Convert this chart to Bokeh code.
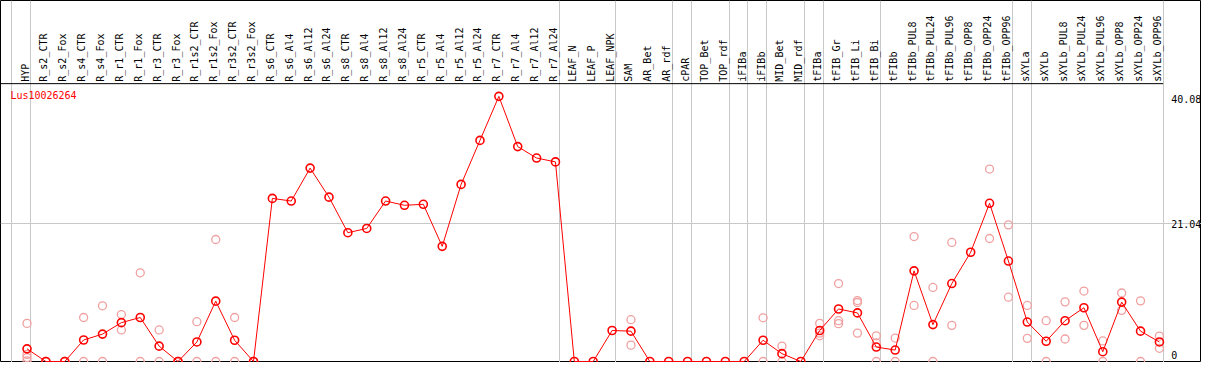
import numpy as np
from bokeh.plotting import figure
from bokeh.models import Range1d, LinearAxis, FixedTicker, Grid, Label
from bokeh.embed import file_html
from bokeh.resources import INLINE
from bokeh.core.properties import value

# ---------------- data ----------------
gene = "Lus10026264"

categories = [
    "HYP",
    "R_s2_CTR", "R_s2_Fox", "R_s4_CTR", "R_s4_Fox", "R_r1_CTR", "R_r1_Fox",
    "R_r3_CTR", "R_r3_Fox", "R_r1s2_CTR", "R_r1s2_Fox", "R_r3s2_CTR", "R_r3s2_Fox",
    "R_s6_CTR", "R_s6_Al4", "R_s6_Al12", "R_s6_Al24",
    "R_s8_CTR", "R_s8_Al4", "R_s8_Al12", "R_s8_Al24",
    "R_r5_CTR", "R_r5_Al4", "R_r5_Al12", "R_r5_Al24",
    "R_r7_CTR", "R_r7_Al4", "R_r7_Al12", "R_r7_Al24",
    "LEAF_N", "LEAF_P", "LEAF_NPK",
    "SAM", "AR_Bet", "AR_rdf",
    "cPAR",
    "TOP_Bet", "TOP_rdf",
    "iFIBa",
    "iFIBb",
    "MID_Bet", "MID_rdf",
    "tFIBa",
    "tFIB_Gr", "tFIB_Li", "tFIB_Bi",
    "tFIBb", "tFIBb_PUL8", "tFIBb_PUL24", "tFIBb_PUL96", "tFIBb_OPP8", "tFIBb_OPP24", "tFIBb_OPP96",
    "sXYLa",
    "sXYLb", "sXYLb_PUL8", "sXYLb_PUL24", "sXYLb_PUL96", "sXYLb_OPP8", "sXYLb_OPP24", "sXYLb_OPP96",
]

# number of categories in each sample group (groups are separated by grey lines)
group_sizes = [1, 28, 3, 3, 1, 2, 1, 1, 2, 1, 3, 7, 1, 7]

means = [
    1.94,
    0.0, 0.0, 3.29, 4.19, 5.94, 6.73,
    2.35, 0.0, 2.99, 9.23, 3.25, 0.0,
    24.93, 24.53, 29.56, 25.12,
    19.69, 20.34, 24.53, 23.88,
    24.03, 17.60, 27.07, 33.80,
    40.53, 32.85, 31.10, 30.51,
    0.0, 0.0, 4.74,
    4.64, 0.0, 0.0,
    0.0,
    0.0, 0.0,
    0.0,
    3.25,
    1.20, 0.0,
    4.74,
    8.03, 7.43, 2.21,
    1.75, 13.86, 5.64, 11.92, 16.70, 24.18, 15.36,
    6.03,
    3.10, 6.24, 8.22, 1.50, 9.08, 4.64, 2.99,
]

replicates = [
    [5.83, 1.09, 0.60, 0.10],
    [0.0, 0.0], [0.0, 0.0], [6.73, 0.0], [8.52, 0.0], [7.18, 4.83], [13.56, 0.0],
    [4.83, 0.0], [0.0, 0.0], [6.09, 0.0], [18.65, 0.0], [6.73, 0.0], [0.0, 0.0],
    [], [], [], [],
    [], [], [], [],
    [], [], [], [],
    [], [], [], [],
    [], [], [],
    [6.39, 2.50], [], [],
    [],
    [], [],
    [],
    [6.68, 0.0],
    [2.35, 0.0], [],
    [5.83, 4.34, 3.93],
    [11.92, 6.24, 5.79], [9.32, 9.02, 4.34], [3.93, 2.84, 0.0],
    [3.59, 0.0], [19.10, 8.57], [11.32, 0.0], [18.20, 5.53], [], [29.42, 18.80], [20.89, 9.83],
    [8.57, 3.54],
    [6.24, 0.0], [9.12, 3.44], [10.77, 5.53], [3.14, 0.0], [10.47, 7.82], [9.27, 0.0], [3.89, 2.02],
]

y_ticks = [0, 21.04, 40.08]

# ---------------- style ----------------
RED = "#ff0000"
PINK = "#f0a0a0"
GREY = "#c8c8c8"
FONT = "DejaVu Sans Mono"

n = len(categories)
xs = list(range(n))

X0, X1 = -1.405, 62.23
Y0, Y1 = -0.15, 55.18
HEADER_Y = 42.47     # black line under the header
LABEL_Y = 42.77      # bottom of the rotated category labels

p = figure(width=1201, height=362, output_backend="svg", toolbar_location=None,
           x_range=Range1d(X0, X1), y_range=Range1d(Y0, Y1),
           x_axis_type=None, y_axis_type=None, min_border=0)
p.outline_line_color = "black"
p.outline_line_width = 1
p.background_fill_color = "white"
p.border_fill_color = "white"

# group separators
ends = np.cumsum(group_sizes) - 1
seps = [-0.8] + [float(e) + 0.2 for e in ends]
p.add_layout(Grid(dimension=0, ticker=FixedTicker(ticks=seps),
                  grid_line_color=GREY, grid_line_width=1))

# horizontal reference line at the mid tick
p.add_layout(Grid(dimension=1, ticker=FixedTicker(ticks=[y_ticks[1]]),
                  grid_line_color=GREY, grid_line_width=1, bounds=(X0, seps[-1])))

# header separator line
p.segment(x0=[X0], y0=[HEADER_Y], x1=[seps[-1]], y1=[HEADER_Y],
          line_color="black", line_width=1)

# rotated category labels
p.text(x=xs, y=[LABEL_Y] * n, text=categories, angle=np.pi / 2,
       text_align="left", text_baseline="middle", x_offset=-2,
       text_font=value(FONT), text_font_size="10px", text_color="black")

# replicates
rx, ry = [], []
for i, reps in enumerate(replicates):
    for v in reps:
        rx.append(i)
        ry.append(v)
p.scatter(rx, ry, marker="circle", size=8, fill_color=None,
          line_color=PINK, line_width=1.3)

# mean line + markers
p.line(xs, means, line_color=RED, line_width=1)
p.scatter(xs, means, marker="circle", size=8, fill_color=None,
          line_color=RED, line_width=1.6)

# gene name
p.add_layout(Label(x=-0.88, y=40.63, text=gene, text_color=RED,
                   text_font=FONT, text_font_size="10px",
                   text_baseline="middle", text_align="left"))

# right-hand value axis (drawn inside, at the last separator)
ax_hi = LinearAxis(fixed_location=seps[-1],
                   ticker=FixedTicker(ticks=[t for t in y_ticks if t > 0]),
                   axis_line_color=None, major_tick_line_color=None,
                   minor_tick_line_color=None, major_tick_out=0, major_tick_in=0,
                   major_label_standoff=8, major_label_text_baseline="top",
                   major_label_text_font=FONT, major_label_text_font_size="10px",
                   major_label_text_color="black")
ax_lo = LinearAxis(fixed_location=seps[-1],
                   ticker=FixedTicker(ticks=[t for t in y_ticks if t == 0]),
                   axis_line_color=None, major_tick_line_color=None,
                   minor_tick_line_color=None, major_tick_out=0, major_tick_in=0,
                   major_label_standoff=8, major_label_text_baseline="bottom",
                   major_label_text_font=FONT, major_label_text_font_size="10px",
                   major_label_text_color="black")
p.add_layout(ax_hi, "right")
p.add_layout(ax_lo, "right")

open("out.html", "w").write(file_html(p, INLINE))
